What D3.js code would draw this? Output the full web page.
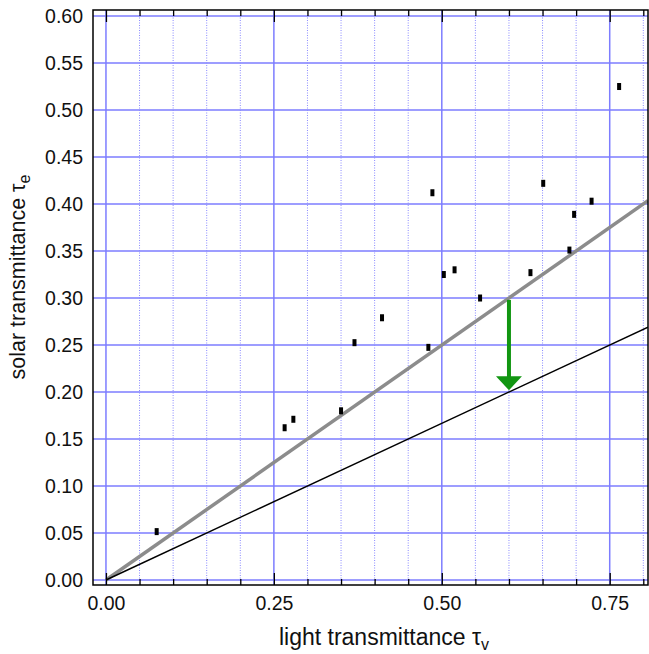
<!DOCTYPE html>
<html>
<head>
<meta charset="utf-8">
<script src="https://cdn.jsdelivr.net/npm/d3@7/dist/d3.min.js"></script>
<style>
  body { margin: 0; background: #fff; }
  svg text { font-family: "Liberation Sans", Arial, sans-serif; fill: #111; }
</style>
</head>
<body>
<svg id="chart" width="649" height="654"></svg>
<script>
// measured glazing points (light vs solar transmittance)
const tauV = [0.0755, 0.266, 0.279, 0.350, 0.370, 0.411, 0.480, 0.486, 0.503, 0.519, 0.557, 0.632, 0.651, 0.690, 0.697, 0.723, 0.764];
const tauE = [0.0515, 0.162, 0.171, 0.180, 0.2525, 0.279, 0.2475, 0.412, 0.325, 0.330, 0.300, 0.327, 0.422, 0.351, 0.389, 0.403, 0.525];

// reference lines through the origin
const lineSlopes = [0.5, 1 / 3];
const lineColors = ["#8c8c8c", "#000"];
const lineWidths = [3.5, 1.5];

// arrow from the grey line down to the black one
const arrowFrom = [0.6, 0.298];
const arrowTo = [0.6, 0.202];

const xTickLabels = [0, 0.25, 0.5, 0.75];
const yTickLabels = d3.range(0, 0.6001, 0.05);
const xGridTicks = d3.range(0, 0.8001, 0.05);

const pLeft = 93, pRight = 648, pTop = 10, pBottom = 585;

const svg = d3.select("#chart");

const x = d3.scaleLinear().domain([-0.0193, 0.807]).range([pLeft, pRight]);
const y = d3.scaleLinear().domain([-0.0053, 0.6064]).range([pBottom, pTop]);

const isMajor = v => Math.abs(v / 0.25 - Math.round(v / 0.25)) < 1e-6;

// grid
const grid = svg.append("g");
grid.selectAll("line.h")
  .data(yTickLabels)
  .enter().append("line")
  .attr("x1", pLeft).attr("x2", pRight)
  .attr("y1", d => y(d)).attr("y2", d => y(d))
  .attr("stroke", "#7d7dff").attr("stroke-width", 1.7);

grid.selectAll("line.v")
  .data(xGridTicks)
  .enter().append("line")
  .attr("x1", d => x(d)).attr("x2", d => x(d))
  .attr("y1", pTop).attr("y2", pBottom)
  .attr("stroke", d => isMajor(d) ? "#7d7dff" : "#8a8aff")
  .attr("stroke-width", d => isMajor(d) ? 1.5 : 1)
  .attr("stroke-dasharray", d => isMajor(d) ? null : "1,1.5");

svg.append("clipPath").attr("id", "plot")
  .append("rect").attr("x", pLeft).attr("y", pTop)
  .attr("width", pRight - pLeft).attr("height", pBottom - pTop);

const plot = svg.append("g").attr("clip-path", "url(#plot)");

// reference lines
lineSlopes.forEach((s, i) => {
  const xEnd = x.domain()[1];
  plot.append("line")
    .attr("x1", x(0)).attr("y1", y(0))
    .attr("x2", x(xEnd)).attr("y2", y(s * xEnd))
    .attr("stroke", lineColors[i])
    .attr("stroke-width", lineWidths[i]);
});

// arrow
const headH = 14, headW = 13;
plot.append("line")
  .attr("x1", x(arrowFrom[0])).attr("y1", y(arrowFrom[1]))
  .attr("x2", x(arrowTo[0])).attr("y2", y(arrowTo[1]) - headH + 1)
  .attr("stroke", "#129612").attr("stroke-width", 4);
plot.append("path")
  .attr("d", `M${x(arrowTo[0]) - headW},${y(arrowTo[1]) - headH} L${x(arrowTo[0]) + headW},${y(arrowTo[1]) - headH} L${x(arrowTo[0])},${y(arrowTo[1])} Z`)
  .attr("fill", "#129612");

// markers
plot.selectAll("rect.pt")
  .data(tauV.map((v, i) => [v, tauE[i]]))
  .enter().append("rect")
  .attr("x", d => x(d[0]) - 2)
  .attr("y", d => y(d[1]) - 3.5)
  .attr("width", 4).attr("height", 7)
  .attr("fill", "#000");

// ticks, bottom (inward) and top (inward)
const tickLen = d => isMajor(d) ? 12 : 6;
const bottomAxis = svg.append("g")
  .attr("transform", `translate(0,${pBottom})`)
  .call(d3.axisBottom(x).tickValues(xGridTicks).tickSizeOuter(0).tickFormat(""));
bottomAxis.select(".domain").remove();
bottomAxis.selectAll(".tick line").attr("y2", d => -tickLen(d)).attr("stroke", "#000").attr("stroke-width", 1.3);

const topAxis = svg.append("g")
  .attr("transform", `translate(0,${pTop})`)
  .call(d3.axisTop(x).tickValues(xGridTicks).tickSizeOuter(0).tickFormat(""));
topAxis.select(".domain").remove();
topAxis.selectAll(".tick line").attr("y2", d => tickLen(d)).attr("stroke", "#000").attr("stroke-width", 1.3);

// tick labels
const xLab = svg.append("g")
  .attr("transform", `translate(0,${pBottom})`)
  .call(d3.axisBottom(x).tickValues(xTickLabels).tickSize(0).tickPadding(11).tickFormat(d3.format(".2f")));
xLab.select(".domain").remove();
xLab.selectAll("text").style("font-size", "19.5px");

const yLab = svg.append("g")
  .attr("transform", `translate(${pLeft},0)`)
  .call(d3.axisLeft(y).tickValues(yTickLabels).tickSize(0).tickPadding(10).tickFormat(d3.format(".2f")));
yLab.select(".domain").remove();
yLab.selectAll("text").style("font-size", "19.5px");

// frame
svg.append("rect")
  .attr("x", pLeft).attr("y", pTop)
  .attr("width", pRight - pLeft).attr("height", pBottom - pTop)
  .attr("fill", "none").attr("stroke", "#000").attr("stroke-width", 1.5);

// axis titles
const xt = svg.append("text")
  .attr("x", 384).attr("y", 645)
  .attr("text-anchor", "middle")
  .style("font-size", "23px");
xt.append("tspan").text("light transmittance \u03c4");
xt.append("tspan").attr("dy", 5).style("font-size", "16px").text("v");

const yt = svg.append("text")
  .attr("transform", "translate(25,277) rotate(-90)")
  .attr("text-anchor", "middle")
  .style("font-size", "21.5px");
yt.append("tspan").text("solar transmittance \u03c4");
yt.append("tspan").attr("dy", 5).style("font-size", "16px").text("e");
</script>
</body>
</html>
